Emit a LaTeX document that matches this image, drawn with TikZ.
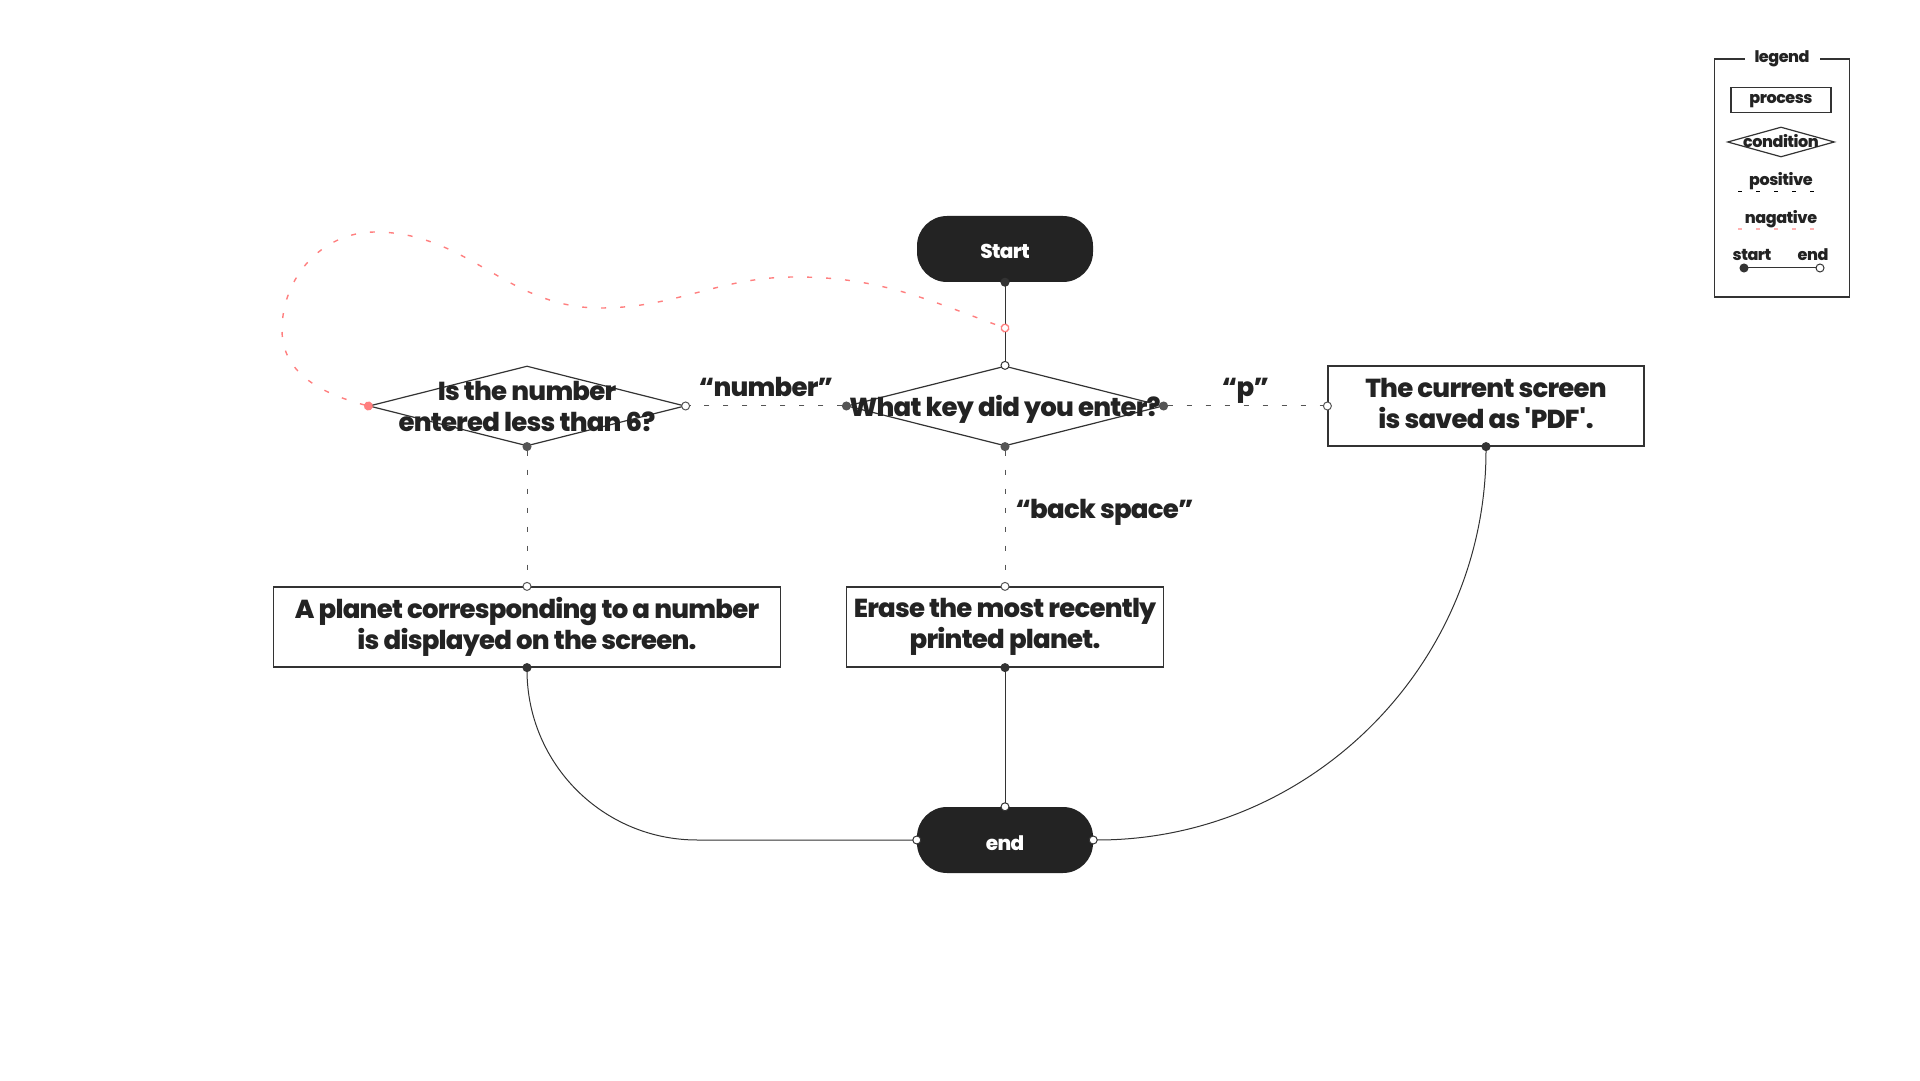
\documentclass[tikz,border=0pt]{standalone}
\usepackage{fontspec}
\setmainfont{Poppins}[BoldFont={Poppins ExtraBold}, BoldFeatures={LetterSpace=-3}]
\usepackage{tikz}
\usetikzlibrary{shapes.geometric, arrows.meta}
\definecolor{ink}{HTML}{232323}
\definecolor{edge}{HTML}{333333}
\definecolor{dash}{HTML}{555555}
\definecolor{salmon}{HTML}{FF7F7F}
\newcommand{\spill}[2][4pt]{\makebox[0pt]{\raisebox{-#1}[\height][\depth]{\begin{tabular}{@{}c@{}}#2\end{tabular}}}}
\tikzstyle{link} = [line width=1pt, draw=edge,
{Circle[length=9pt]}-{Circle[length=9pt,fill=white]},
shorten <=-4.5pt, shorten >=-4.5pt]
\tikzstyle{posi} = [link, draw=dash, dash pattern=on 5pt off 14pt]
\tikzstyle{nega} = [link, draw=salmon, line width=1.4pt, dash pattern=on 5pt off 14pt]
\tikzstyle{proc} = [rectangle,
minimum height=80pt,
inner xsep=3pt,
align=center,
draw=edge, line width=1.2pt,
fill=white, text=ink,
font=\bfseries\fontsize{26}{31}\selectfont]
\tikzstyle{cond} = [diamond,
minimum width=316pt,
minimum height=80pt,
inner sep=0pt,
draw=edge, line width=1.2pt,
text=ink,
font=\bfseries\fontsize{26}{31}\selectfont]
\tikzstyle{term} = [rectangle, rounded corners=30pt,
minimum width=176pt,
minimum height=66pt,
text height=20pt, text depth=0pt,
fill=ink, text=white,
font=\bfseries\fontsize{20}{24}\selectfont]
\tikzstyle{lab} = [inner sep=0pt, text=ink, font=\bfseries\fontsize{26}{31}\selectfont]
\tikzstyle{leg} = [inner sep=0pt, text=ink, font=\bfseries\fontsize{16}{19}\selectfont]

\begin{document}
\begin{tikzpicture}[x=1pt, y=1pt, node distance=221pt]
            \useasboundingbox (0,0) rectangle (1920,1080);

            \node (start)  [term] at (1005,831) {Start};
            \node (key)    [cond, below of=start, yshift=64pt] {\spill{What key did you enter?}};
            \node (less)   [cond, left of=key, xshift=-257pt] {\spill{Is the number\\entered less than 6?}};
            \node (pdf)    [proc, minimum width=316pt, right of=key, xshift=260pt, text depth=5pt] {The current screen\\is saved as \textquotesingle PDF\textquotesingle.};
            \node (planet) [proc, minimum width=507pt, below of=less] {A planet corresponding to a number\\is displayed on the screen.};
            \node (erase)  [proc, minimum width=317pt, below of=key] {Erase the most recently\\printed planet.};
            \node (end)    [term, below of=erase, yshift=8pt] {end};
            \coordinate (back) at (1005,752);

            \draw [link] (start) -- (key.north);
            \draw [posi] (key.west)  -- node[lab, anchor=base, yshift=9pt]{“number”} (less.east);
            \draw [posi] (key.east)  -- node[lab, anchor=base, yshift=9pt]{“p”} (pdf.west);
            \draw [posi] (key.south) -- node[lab, anchor=base west, xshift=10pt, yshift=-2pt]{“back space”} (erase.north);
            \draw [posi] (less.south) -- (planet.north);
            \draw [link, rounded corners=170pt] (planet.south) |- (end.west);
            \draw [link] (erase.south) -- (end.north);
            \draw [link] (pdf.south) to[out=-90, in=0] (end.east);
            \draw [nega] (less.west) to[out=165, in=270] (282,750) to[out=90, in=180] (375,848)
                to[out=0, in=180] (600,772) to[out=0, in=180] (795,803) to[out=0, in=160] (back);

            % legend
            \node (frame) [draw=edge, line width=1.2pt, minimum width=135pt, minimum height=238pt] at (1782,902) {};
            \node (title) [leg, fill=white, inner xsep=10pt, inner ysep=2pt] at (frame.north) {legend};
            \node (lproc) [proc, leg, minimum width=100pt, minimum height=25pt, line width=1.2pt] at (1781,980) {\raisebox{-1pt}[\height][\depth]{process}};
            \node (lcond) [cond, leg, minimum width=107pt, minimum height=30pt] at (1781,938) {\spill[1.5pt]{condition}};
            \node (lpos)  [leg] at (1781,899) {positive};
            \node (lneg)  [leg] at (1781,861) {nagative};
            \node (lstart)[leg] at (1752,825) {start};
            \node (lend)  [leg] at (1813,825) {end};
            \coordinate (pa) at (1738,888);
            \coordinate (pb) at (1827,888);
            \coordinate (na) at (1738,851);
            \coordinate (nb) at (1827,851);
            \coordinate (sa) at (1744,812);
            \coordinate (sb) at (1820,812);
            \draw [black, line width=1pt, dash pattern=on 4pt off 14pt] (pa) -- (pb);
            \draw [salmon!60, line width=1.4pt, dash pattern=on 4pt off 14pt] (na) -- (nb);
            \draw [link] (sa) -- (sb);

        \end{tikzpicture}
\end{document}
